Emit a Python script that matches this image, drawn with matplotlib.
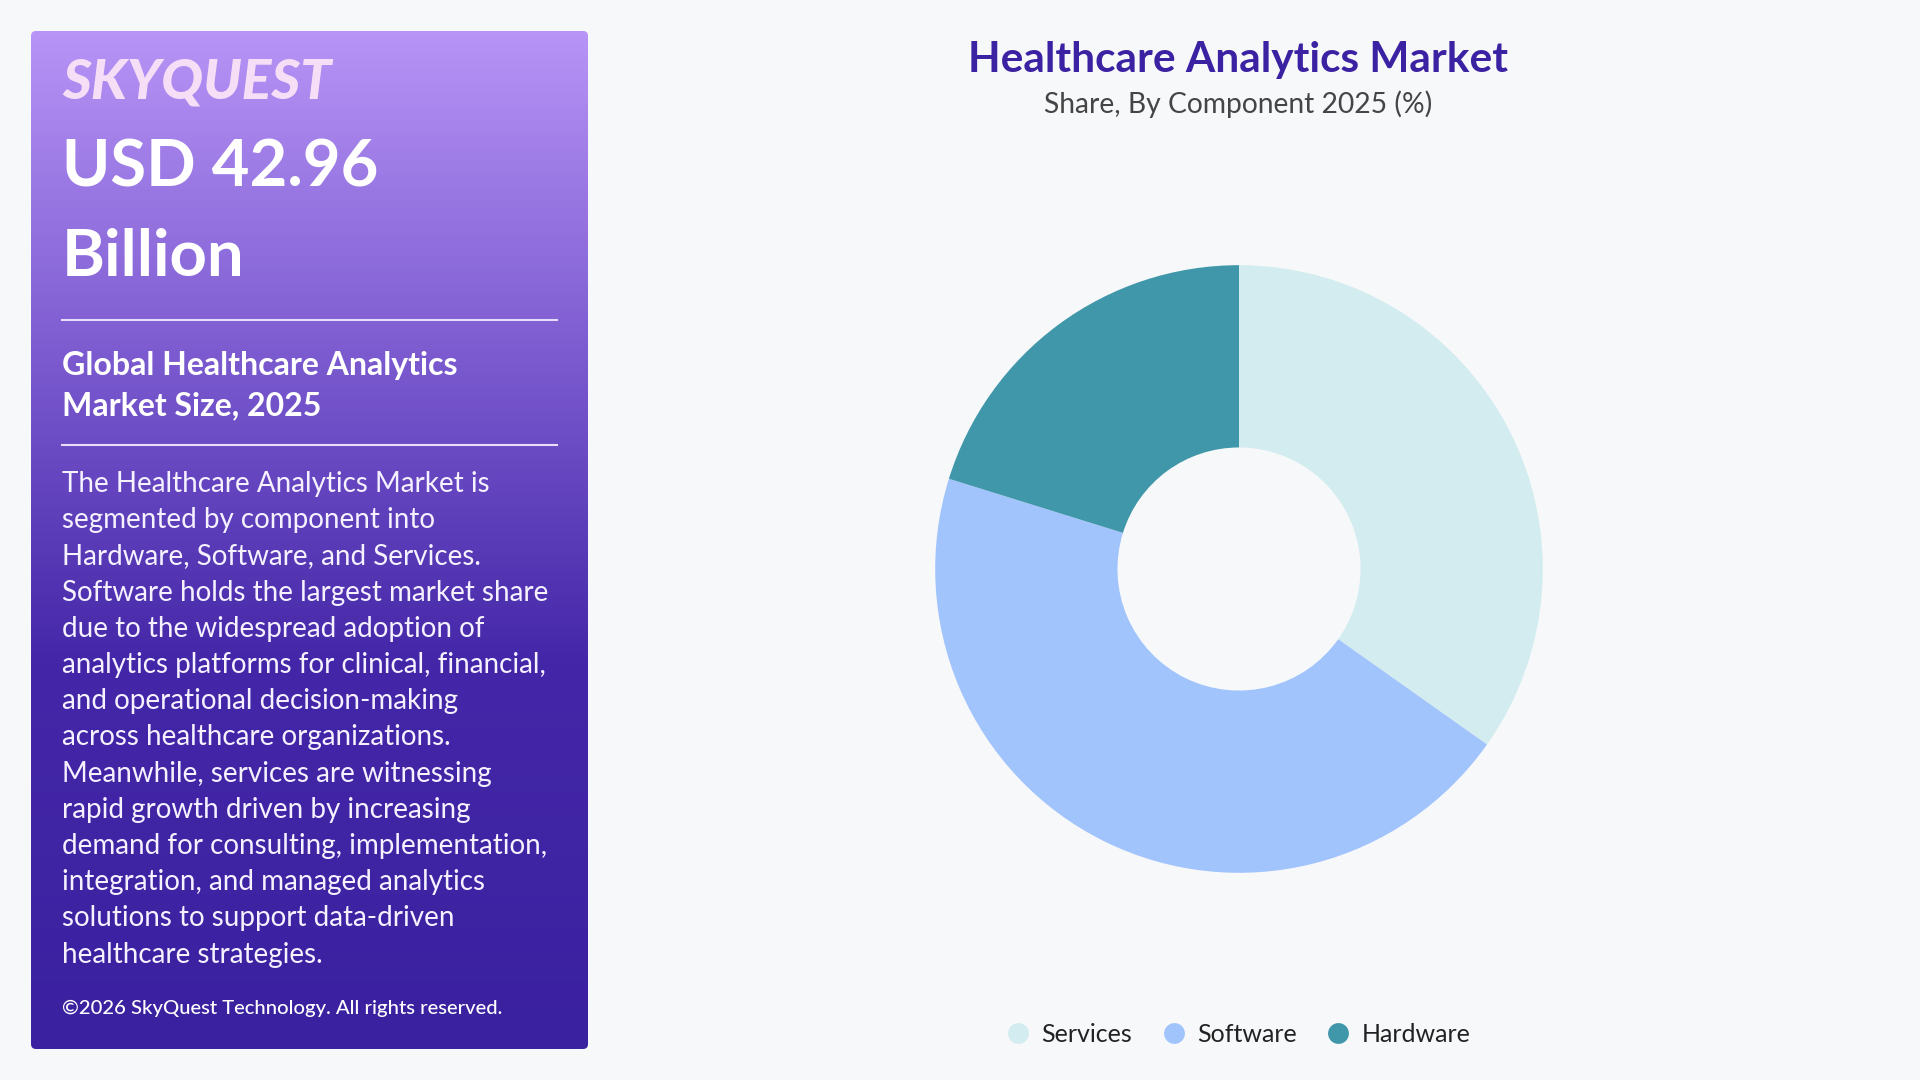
import numpy as np
import matplotlib.pyplot as plt
from matplotlib.colors import LinearSegmentedColormap
from matplotlib.patches import FancyBboxPatch
from matplotlib.lines import Line2D

plt.rcParams['font.family'] = ['Lato', 'DejaVu Sans']

# Data
components = ['Services', 'Software', 'Hardware']
shares = [34.8, 45.0, 20.2]
colors = ['#d3ecef', '#a2c4fc', '#4097aa']

title = 'Healthcare Analytics Market'
subtitle = 'Share, By Component 2025 (%)'
market_value = 'USD 42.96'
market_unit = 'Billion'
side_heading = ['Global Healthcare Analytics', 'Market Size, 2025']
body_lines = [
    'The Healthcare Analytics Market is',
    'segmented by component into',
    'Hardware, Software, and Services.',
    'Software holds the largest market share',
    'due to the widespread adoption of',
    'analytics platforms for clinical, financial,',
    'and operational decision-making',
    'across healthcare organizations.',
    'Meanwhile, services are witnessing',
    'rapid growth driven by increasing',
    'demand for consulting, implementation,',
    'integration, and managed analytics',
    'solutions to support data-driven',
    'healthcare strategies.',
]
copyright_text = '\u00a92026 SkyQuest Technology. All rights reserved.'

W, H = 1920, 1080
bg = '#f7f8fa'
fig = plt.figure(figsize=(19.2, 10.8), dpi=100, facecolor=bg)

# pixel helpers (from top-left)
def fx(px):
    return px / W

def fy(py):
    return 1 - py / H

# left panel with gradient
panel = fig.add_axes([0, 0, 1, 1])
panel.set_xlim(0, W)
panel.set_ylim(H, 0)
panel.axis('off')
grad_cmap = LinearSegmentedColormap.from_list(
    'panel', [(0, '#b794f6'), (0.3, '#7f5ed2'), (0.62, '#4427a8'), (1.0, '#3a21a0')])
grad = np.linspace(0, 1, 256).reshape(-1, 1)
px0, py0, px1, py1 = 31, 31, 588, 1049
im = panel.imshow(grad, cmap=grad_cmap, aspect='auto', extent=[px0, px1, py1, py0], zorder=1)
box = FancyBboxPatch((px0, py0), px1 - px0, py1 - py0, boxstyle='round,pad=0,rounding_size=5',
                     transform=panel.transData, facecolor='none', edgecolor='none')
panel.add_patch(box)
im.set_clip_path(box)

tx = 62
panel.text(tx, 82, 'SKYQUEST', color='#f6def6', fontsize=40, fontweight='black',
           fontstyle='italic', va='center', ha='left', zorder=3)
panel.text(tx, 168, market_value, color='white', fontsize=47, fontweight='bold',
           va='center', ha='left', zorder=3)
panel.text(tx, 258, market_unit, color='white', fontsize=47, fontweight='bold',
           va='center', ha='left', zorder=3)
panel.plot([tx, 557], [320, 320], color='#e8dcfb', lw=1.5, zorder=3)
panel.text(tx, 366, side_heading[0], color='white', fontsize=23, fontweight='bold',
           va='center', ha='left', zorder=3)
panel.text(tx, 406, side_heading[1], color='white', fontsize=23, fontweight='bold',
           va='center', ha='left', zorder=3)
panel.plot([tx, 557], [445, 445], color='#e8dcfb', lw=1.5, zorder=3)
for i, line in enumerate(body_lines):
    panel.text(tx, 484 + i * 36.2, line, color='#f5f1ff', fontsize=20,
               va='center', ha='left', zorder=3)
panel.text(tx, 1008, copyright_text, color='white', fontsize=14.6, fontweight='medium',
           va='center', ha='left', zorder=3)

# titles
fig.text(fx(1238), fy(60), title, color='#3b22a2', fontsize=30.5, fontweight='bold',
         ha='center', va='center')
fig.text(fx(1238), fy(104), subtitle, color='#454545', fontsize=20.3,
         ha='center', va='center')

# donut
cx, cy, size = 1239, 569, 700
ax = fig.add_axes([fx(cx - size / 2), fy(cy + size / 2), size / W, size / H])
ax.pie(shares, colors=colors, startangle=90, counterclock=False, radius=1,
       wedgeprops=dict(width=0.6, edgecolor='none'))
ax.set_xlim(-1.152, 1.152)
ax.set_ylim(-1.152, 1.152)
ax.set_aspect('equal')
ax.axis('off')

# legend
handles = [Line2D([0], [0], marker='o', linestyle='none', markersize=15,
                  markerfacecolor=c, markeredgecolor='none') for c in colors]
fig.legend(handles, components, loc='center', bbox_to_anchor=(fx(1238), fy(1034)),
           ncol=3, frameon=False, fontsize=18, handlelength=1.0, handletextpad=0.42,
           columnspacing=1.17, labelcolor='#222222')

fig.savefig('out.png', dpi=100, facecolor=bg)
